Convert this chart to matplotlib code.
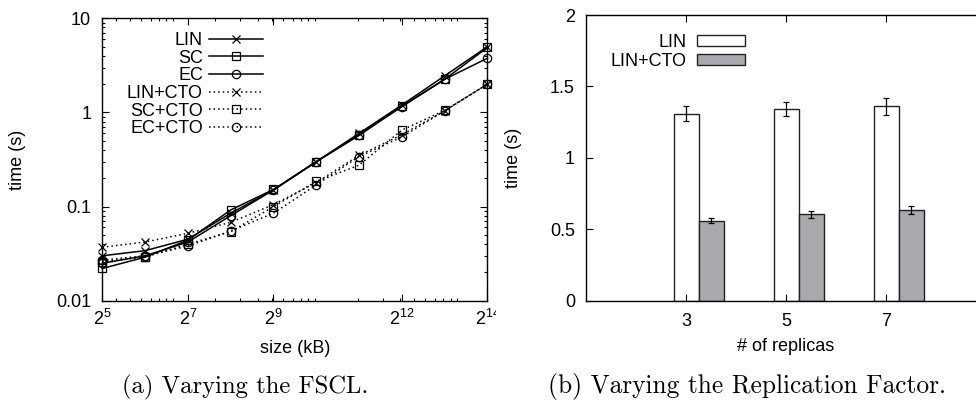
import matplotlib
matplotlib.use('Agg')
import matplotlib.pyplot as plt
import numpy as np
from matplotlib.ticker import FixedLocator, FuncFormatter, NullFormatter
from matplotlib.transforms import Bbox, TransformedBbox

plt.rcParams['font.family'] = ['Liberation Sans', 'DejaVu Sans']
plt.rcParams['mathtext.fontset'] = 'custom'
plt.rcParams['mathtext.rm'] = 'Liberation Sans'
plt.rcParams['mathtext.it'] = 'Liberation Sans:italic'
plt.rcParams['mathtext.bf'] = 'Liberation Sans:bold'

# (a) completion time vs. file size, log/log
sizes_kb = [32, 64, 128, 256, 512, 1024, 2048, 4096, 8192, 16384]
size_ticks = [32, 128, 512, 4096, 16384]
lin = [0.030, 0.034, 0.045, 0.085, 0.150, 0.30, 0.60, 1.20, 2.45, 5.0]
sc = [0.022, 0.029, 0.044, 0.092, 0.152, 0.30, 0.57, 1.17, 2.25, 4.9]
ec = [0.025, 0.030, 0.042, 0.080, 0.150, 0.30, 0.58, 1.15, 2.25, 3.77]
lin_cto = [0.037, 0.042, 0.052, 0.068, 0.105, 0.18, 0.35, 0.58, 1.04, 2.0]
sc_cto = [0.026, 0.029, 0.040, 0.054, 0.100, 0.185, 0.275, 0.65, 1.05, 2.0]
ec_cto = [0.027, 0.030, 0.038, 0.055, 0.085, 0.17, 0.34, 0.55, 1.04, 2.0]

# (b) completion time vs. number of replicas
replicas = [3, 5, 7]
rep_lin = [1.31, 1.34, 1.36]
rep_lin_err = [0.053, 0.050, 0.060]
rep_cto = [0.56, 0.605, 0.635]
rep_cto_err = [0.016, 0.025, 0.025]

W, H = 976, 401
fig = plt.figure(figsize=(W / 100, H / 100), dpi=100)

FS = 13
tick_kw = dict(direction='in', top=True, right=True, width=0.8, labelsize=FS)

# ---- left panel ----
ax1 = fig.add_axes([102.3 / W, 1 - 300.7 / H, 385.2 / W, 282.4 / H])
ax1.set_xscale('log', base=2)
ax1.set_yscale('log')

series = [
    ('LIN', lin, '-', 'x'),
    ('SC', sc, '-', 's'),
    ('EC', ec, '-', 'o'),
    ('LIN+CTO', lin_cto, (0, (1, 2)), 'x'),
    ('SC+CTO', sc_cto, (0, (1, 2)), 's'),
    ('EC+CTO', ec_cto, (0, (1, 2)), 'o'),
]
for name, vals, ls, mk in series:
    ax1.plot(sizes_kb, vals, color='black', linestyle=ls, lw=1.1,
             marker=mk, markersize=6, mfc='none', mec='black', mew=0.9,
             label=name, clip_on=False)

ax1.set_xlim(32, 16384)
ax1.set_ylim(0.01, 10)
ax1.xaxis.set_major_locator(FixedLocator(size_ticks))
ax1.xaxis.set_major_formatter(FuncFormatter(lambda v, p: r'$2^{%d}$' % round(np.log2(v))))
minor_x = [k * 10 ** n for n in range(1, 5) for k in range(1, 10) if 32 < k * 10 ** n < 16384]
ax1.xaxis.set_minor_locator(FixedLocator(minor_x))
ax1.xaxis.set_minor_formatter(NullFormatter())
ax1.yaxis.set_major_formatter(FuncFormatter(lambda v, p: '%g' % v))
ax1.yaxis.set_minor_formatter(NullFormatter())
ax1.tick_params(which='major', length=5, pad=8, **tick_kw)
ax1.tick_params(which='minor', length=2.5, **tick_kw)
ax1.tick_params(axis='x', which='major', pad=6)

ax1.set_xlabel('size (kB)', fontsize=FS)
ax1.xaxis.set_label_coords(0.5, -0.139)
ax1.set_ylabel('time (s)', fontsize=FS)
ax1.yaxis.set_label_coords(-0.198, 0.5)

ax1.legend(loc='upper right', bbox_to_anchor=(0.416, 0.952), frameon=False,
           markerfirst=False, fontsize=FS, handlelength=2.95, handletextpad=0.35,
           labelspacing=0.04, borderpad=0, borderaxespad=0)

# the subfigure is cut just right of its last tick label
clip = TransformedBbox(Bbox([[0, 0], [496 / W, 1]]), fig.transFigure)
for t in ax1.xaxis.get_major_ticks():
    t.label1.set_clip_box(clip)
    t.label1.set_clip_on(True)

# ---- right panel ----
ax2 = fig.add_axes([586 / W, 1 - 300.7 / H, 400 / W, 285.7 / H])
bar_w = 0.5
ax2.bar(replicas, rep_lin, width=bar_w, color='white', edgecolor='#222222', lw=1,
        yerr=rep_lin_err, capsize=2.5, error_kw=dict(elinewidth=0.9, capthick=0.9),
        label='LIN')
ax2.bar(np.array(replicas) + bar_w, rep_cto, width=bar_w, color='#a8a9ad',
        edgecolor='#222222', lw=1, yerr=rep_cto_err, capsize=2.5,
        error_kw=dict(elinewidth=0.9, capthick=0.9), label='LIN+CTO')
ax2.set_xlim(1, 9)
ax2.set_ylim(0, 2)
ax2.set_xticks(replicas)
ax2.set_yticks([0, 0.5, 1, 1.5, 2])
ax2.yaxis.set_major_formatter(FuncFormatter(lambda v, p: '%g' % v))
ax2.tick_params(which='major', length=5, pad=8, **tick_kw)
ax2.tick_params(axis='x', pad=9)

ax2.set_xlabel('# of replicas', fontsize=FS)
ax2.xaxis.set_label_coords(0.5, -0.131)
ax2.set_ylabel('time (s)', fontsize=FS)
ax2.yaxis.set_label_coords(-0.16, 0.5)

ax2.legend(loc='upper right', bbox_to_anchor=(0.398, 0.934), frameon=False,
           markerfirst=False, fontsize=FS, handlelength=2.65, handleheight=0.5,
           handletextpad=0.6, labelspacing=0.12, borderpad=0, borderaxespad=0)

for ax in (ax1, ax2):
    for sp in ax.spines.values():
        sp.set_linewidth(1.0)

fig.text(245.5 / W, 1 - 387 / H, '(a) Varying the FSCL.', family='cmr10',
         fontsize=17.8, ha='center', va='center')
fig.text(747 / W, 1 - 387 / H, '(b) Varying the Replication Factor.', family='cmr10',
         fontsize=18.3, ha='center', va='center')

fig.savefig('out.png', dpi=100)
